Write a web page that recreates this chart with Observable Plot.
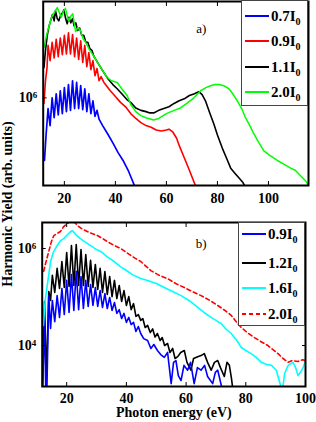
<!DOCTYPE html>
<html><head><meta charset="utf-8">
<script src="https://cdn.jsdelivr.net/npm/d3@7"></script>
<script src="https://cdn.jsdelivr.net/npm/@observablehq/plot@0.6"></script>
<style>
body{margin:0;background:#fff;}
#wrap{position:relative;width:316px;height:422px;font-family:"Liberation Serif","Times New Roman",serif;font-weight:bold;color:#000;}
#wrap svg{position:absolute;left:0;}
.leg{position:absolute;background:#fff;border:1px solid #444;box-sizing:border-box;}
.row{position:absolute;left:3px;height:16px;display:flex;align-items:center;font-size:15px;white-space:nowrap;}
.row svg{position:static !important;margin-right:2px;}
.row span{line-height:16px;}
.row sub{font-size:10px;vertical-align:-4px;line-height:0;}
#ylab{position:absolute;left:-92px;top:195px;width:200px;text-align:center;font-size:14px;line-height:18px;transform:rotate(-90deg);}
</style></head>
<body><div id="wrap"></div>
<script>
// ---------- data (photon energy eV, yield arb. units) ----------
const xTicks = [20, 40, 60, 80, 100];
const yTicksA = [1e6];
const yTicksB = [1e4, 1e6];

// panel a)
const legendA = ["0.7", "0.9", "1.1", "2.0"];
const a07 = [[12.2,2.7e5],[12.8,4.5e5],[13.6,8.0e5],[14.4,5.6e5],[15.2,1.0e6],[16.0,6.6e5],[16.8,1.09e6],[17.6,7.0e5],[18.4,1.16e6],[19.2,7.2e5],[20.0,1.24e6],[20.8,7.5e5],[21.6,1.32e6],[22.4,7.7e5],[23.2,1.43e6],[24.0,8.0e5],[24.8,1.38e6],[25.6,8.0e5],[26.4,1.29e6],[27.2,7.8e5],[28.0,1.21e6],[28.8,7.5e5],[29.6,1.09e6],[30.4,7.2e5],[31.2,9.4e5],[32.0,6.8e5],[32.8,7.7e5],[33.6,6.4e5],[35,5.6e5],[37,4.7e5],[39,3.9e5],[41,3.2e5],[43,2.7e5],[45,2.2e5],[47.5,1.59e5],[48.5,1.3e5]];
const a09 = [[12.0,8.9e5],[12.6,1.43e6],[13.2,1.88e6],[13.6,3.0e6],[14.4,2.18e6],[15.2,3.2e6],[16.0,2.3e6],[16.8,3.4e6],[17.6,2.37e6],[18.4,3.5e6],[19.2,2.47e6],[20.0,3.7e6],[20.8,2.5e6],[21.6,3.9e6],[22.4,2.5e6],[23.2,3.76e6],[24.0,2.37e6],[24.8,3.5e6],[25.6,2.23e6],[26.4,3.3e6],[27.2,2.1e6],[28.0,3.0e6],[28.8,1.92e6],[29.6,2.58e6],[30.4,1.8e6],[31.2,2.18e6],[32.0,1.59e6],[32.8,1.85e6],[33.6,1.43e6],[34.4,1.56e6],[35.5,1.38e6],[36.5,1.29e6],[38,1.16e6],[40,1.03e6],[42,9.1e5],[44,8.3e5],[46,7.2e5],[48,6.5e5],[50,5.96e5],[52,5.6e5],[54,5.4e5],[56,5.1e5],[58,5.0e5],[60,5.1e5],[61,5.2e5],[62.5,4.9e5],[64,4.3e5],[65,3.7e5],[67,2.86e5],[69,2.2e5],[71.4,1.59e5],[72.5,1.29e5]];
const a11 = [[12.0,1.88e6],[12.6,2.7e6],[13.3,3.7e6],[14.0,4.5e6],[14.6,5.0e6],[15.3,5.7e6],[16.0,5.0e6],[16.5,6.2e6],[17.2,5.25e6],[17.8,5.0e6],[18.6,5.7e6],[19.4,5.96e6],[19.8,6.3e6],[20.5,5.25e6],[21.1,4.7e6],[21.8,5.4e6],[22.5,4.8e6],[23.2,5.25e6],[23.8,4.5e6],[24.5,4.8e6],[25.2,4.1e6],[26.0,4.3e6],[26.8,3.7e6],[27.6,3.7e6],[28.4,3.2e6],[29.2,3.2e6],[30.0,2.8e6],[30.8,2.7e6],[31.5,2.4e6],[33,2.1e6],[35,1.77e6],[37,1.5e6],[39,1.32e6],[40.7,1.21e6],[42.5,1.09e6],[44.6,9.6e5],[46,9.1e5],[48,8.1e5],[50,7.7e5],[52,7.5e5],[53.5,7.3e5],[55,7.3e5],[57,7.7e5],[59,8.0e5],[61,8.3e5],[63,8.9e5],[65,9.4e5],[67,9.8e5],[69,1.05e6],[71,1.09e6],[72.7,1.14e6],[74,1.07e6],[75.3,9.4e5],[77,7.3e5],[78.6,5.8e5],[80,4.6e5],[81.9,3.5e5],[83.5,2.86e5],[85.2,2.3e5],[87,2.05e5],[88.4,1.88e5],[90,1.7e5],[91,1.55e5],[92,1.3e5]];
const a20 = [[12.0,2.86e6],[13,3.7e6],[14,4.5e6],[15,5.4e6],[15.7,5.8e6],[16.5,6.2e6],[17.2,6.6e6],[18,5.96e6],[18.8,5.4e6],[19.6,6.1e6],[20.4,6.5e6],[21,5.7e6],[21.7,5.0e6],[22.5,5.5e6],[23.3,5.8e6],[24.4,4.0e6],[25.3,4.35e6],[26.3,4.1e6],[27.3,3.46e6],[28.3,3.2e6],[30,2.7e6],[31.5,2.4e6],[33,2.1e6],[35,1.77e6],[36.8,1.53e6],[38.5,1.43e6],[40.7,1.38e6],[42.5,1.21e6],[44.6,1.05e6],[46,8.7e5],[48,7.5e5],[50,6.9e5],[52,6.6e5],[55,6.3e5],[57,6.5e5],[60,7.2e5],[63,7.7e5],[65.5,8.1e5],[68,8.9e5],[70.8,1.0e6],[73.4,1.16e6],[75.5,1.24e6],[77.3,1.29e6],[79,1.32e6],[80.6,1.32e6],[82.5,1.29e6],[84.5,1.21e6],[86,1.09e6],[87.8,9.4e5],[89.5,8.0e5],[91,6.6e5],[92.7,5.6e5],[94.3,4.7e5],[96,4.0e5],[98.2,3.3e5],[100.5,3.0e5],[103.5,2.7e5],[106,2.5e5],[108.7,2.3e5],[110.5,2.2e5],[112.6,1.96e5],[114.5,1.77e5],[115.9,1.59e5]];

// panel b)
const legendB = ["0.9", "1.2", "1.6", "2.0"];
const b09 = [[11.9,1.1e3],[12.6,3.6e4],[13.0,1.1e3],[13.4,1.5e3],[14.0,1.07e5],[14.6,2.24e4],[15.2,8.5e4],[16.0,3.1e4],[16.8,1.07e5],[17.6,3.8e4],[18.4,1.5e5],[19.2,4.35e4],[20.0,2.2e5],[20.8,4.8e4],[21.6,2.9e5],[22.4,5.3e4],[23.2,3.4e5],[24.0,5.5e4],[24.8,2.65e5],[25.6,5.8e4],[26.4,2.2e5],[27.2,6.4e4],[28.0,1.8e5],[28.8,6.7e4],[29.6,1.57e5],[30.4,6.4e4],[31.2,1.36e5],[32.0,6.1e4],[32.8,1.18e5],[33.6,5.8e4],[34.4,9.8e4],[35.2,5.3e4],[36.0,7.7e4],[36.8,4.6e4],[37.6,5.5e4],[38.4,3.6e4],[39.2,4.6e4],[40.0,3.0e4],[40.8,3.8e4],[41.6,2.7e4],[42.4,3.0e4],[43.2,1.95e4],[44,2.47e4],[44.8,1.77e4],[45.8,1.39e4],[47.1,1.27e4],[48.2,8.7e3],[49.2,1.05e4],[50.4,7.9e3],[51.5,6.5e3],[52.7,5.7e3],[53.8,7.2e3],[55,1.64e3],[55.8,4.5e3],[56.6,4.9e3],[57.4,2.4e3],[58.3,1.9e3],[59.3,3.9e3],[60.5,3.1e3],[61.5,4.5e3],[62.7,1.64e3],[63.8,3.5e3],[65,3.1e3],[66.2,3.9e3],[67.2,2.3e3],[68.9,1.64e3],[69.8,2.8e3],[70.6,3.1e3],[71.8,1.5e3],[72.8,1.0e3]];
const b12 = [[11.9,1.2e3],[12.6,8.1e4],[13.2,1.9e3],[14.0,1.3e5],[14.6,8.5e4],[15.2,2.8e5],[16.0,1.24e5],[16.8,3.9e5],[17.6,1.5e5],[18.4,5.4e5],[19.2,1.57e5],[20.0,8.3e5],[20.8,1.65e5],[21.6,1.15e6],[22.4,1.73e5],[23.2,1.21e6],[24.0,1.73e5],[24.8,9.5e5],[25.6,1.73e5],[26.4,7.5e5],[27.2,1.65e5],[28.0,5.7e5],[28.8,1.57e5],[29.6,4.7e5],[30.4,1.43e5],[31.2,3.9e5],[32.0,1.24e5],[32.8,3.36e5],[33.6,1.13e5],[34.4,2.65e5],[35.2,1.02e5],[36.0,2.2e5],[36.8,9.3e4],[37.6,1.73e5],[38.4,8.1e4],[39.2,1.36e5],[40.0,6.7e4],[40.8,1.02e5],[41.6,5.5e4],[42.4,7.3e4],[43.2,4.0e4],[44,4.35e4],[44.8,3.3e4],[45.5,3.6e4],[46.3,2.35e4],[47.1,2.6e4],[48,1.85e4],[48.8,2.2e4],[49.6,1.5e4],[50.4,1.77e4],[51.3,1.27e4],[52,1.46e4],[52.8,1.0e4],[53.8,1.1e4],[54.6,7.2e3],[55.5,8.7e3],[56.3,5.4e3],[57.2,5.9e3],[58.2,7.2e3],[59.4,7.9e3],[60.3,4.5e3],[61.6,3.1e3],[62.5,5.4e3],[63.9,5.9e3],[65,6.2e3],[66.1,6.8e3],[67.2,4.5e3],[68.4,3.1e3],[69.5,4.5e3],[70.6,4.9e3],[71.5,3.5e3],[72.8,2.3e3],[73.7,4.5e3],[74.5,3.9e3],[75.2,2.1e3],[75.7,1.2e3]];
const b16 = [[12.2,2.6e4],[12.8,8.5e4],[13.5,1.73e5],[14.6,5.4e5],[15.5,8.3e5],[16.8,1.15e6],[18,1.46e6],[19,1.6e6],[20,1.85e6],[21,2.14e6],[21.9,2.35e6],[23,1.94e6],[24.6,1.6e6],[26,1.39e6],[28,1.15e6],[30,9.5e5],[31.4,8.7e5],[33.5,6.8e5],[35.9,5.4e5],[38,4.25e5],[40.4,3.4e5],[42,2.9e5],[44.8,2.4e5],[47.1,2.2e5],[50,1.9e5],[52.7,1.57e5],[55.5,1.3e5],[58.3,1.07e5],[61,8.5e4],[63.9,6.1e4],[66,4.8e4],[68.4,3.8e4],[70,3.3e4],[71.7,2.84e4],[73.5,2.14e4],[75.1,1.77e4],[77,1.27e4],[78.5,9.1e3],[80,7.9e3],[81.8,6.8e3],[83.5,5.7e3],[85.2,4.5e3],[87,4.05e3],[88.6,3.9e3],[90.2,3.1e3],[91.2,1.9e3],[91.9,1.3e3],[92.5,1.5e3],[93,2.65e3],[94.2,3.9e3],[95.8,4.5e3],[96.7,3.5e3],[97.5,2.4e3],[98.3,2.8e3],[99.2,3.5e3],[100,4.9e3]];
const b20 = [[12.3,3.4e5],[13,5.1e5],[14,8.7e5],[15,1.46e6],[15.7,1.85e6],[16.8,2.04e6],[17.9,2.24e6],[19,2.84e6],[20.2,3.28e6],[21.2,3.6e6],[21.9,3.8e6],[22.7,3.44e6],[23.6,2.98e6],[25,2.58e6],[26.9,2.24e6],[28.5,2.04e6],[30.3,1.85e6],[32,1.61e6],[33.6,1.39e6],[36,1.15e6],[38.1,1.0e6],[40,8.3e5],[42.6,6.5e5],[44.8,5.4e5],[48.2,3.5e5],[51,2.8e5],[53.8,2.4e5],[56.5,1.9e5],[59.4,1.57e5],[62,1.3e5],[65,1.07e5],[68,8.5e4],[70.6,6.7e4],[73,5.3e4],[75.1,4.2e4],[77,3.0e4],[78.5,2.35e4],[80.5,1.85e4],[82.9,1.46e4],[85,1.21e4],[87.4,1.0e4],[89,8.3e3],[90.8,6.8e3],[92.5,5.4e3],[94.2,4.5e3],[95.5,4.9e3],[97.5,4.7e3],[99,5.1e3],[100,4.9e3]];

// ---------- rendering ----------
const rows = a => a.map(([e, v]) => ({e, v}));
const FONT = "Liberation Serif";

function axes(yTicks, pad) {
  return [
    Plot.axisX({anchor: "bottom", ticks: xTicks, tickSize: -4, tickFormat: () => "", label: null}),
    Plot.axisX({anchor: "top", ticks: xTicks, tickSize: -4, tickFormat: () => "", label: null}),
    Plot.axisY({anchor: "left", ticks: yTicks, tickSize: -4, tickFormat: () => "", label: null}),
    Plot.axisY({anchor: "right", ticks: yTicks, tickSize: -4, tickFormat: () => "", label: null}),
    Plot.axisX({anchor: "bottom", ticks: xTicks, tickSize: 0, tickPadding: pad, label: null, fontSize: 14, fontWeight: "bold"}),
    Plot.axisY({anchor: "left", ticks: yTicks, tickSize: 0, tickPadding: 6, label: null, fontSize: 14, fontWeight: "bold",
      tickFormat: d => "10^" + Math.round(Math.log10(d))})
  ];
}

function sup(svg) {
  svg.querySelectorAll("text").forEach(t => {
    const s = t.textContent;
    if (s.includes("^")) {
      const [b, e] = s.split("^");
      t.textContent = b;
      const ts = document.createElementNS("http://www.w3.org/2000/svg", "tspan");
      ts.setAttribute("dy", "-0.5em");
      ts.setAttribute("font-size", "9");
      ts.textContent = e;
      t.appendChild(ts);
    }
  });
  return svg;
}

const wrap = document.getElementById("wrap");

const plotA = Plot.plot({
  width: 316, height: 205,
  marginLeft: 42.7, marginRight: 8, marginTop: 1, marginBottom: 20,
  style: {fontFamily: FONT, background: "transparent", overflow: "visible"},
  x: {domain: [11.7, 115.7], label: null},
  y: {type: "log", domain: [1.6e5, 7.5e6], label: null},
  marks: [
    Plot.line(rows(a07), {x: "e", y: "v", stroke: "#0000ff", strokeWidth: 1.7, clip: true}),
    Plot.line(rows(a09), {x: "e", y: "v", stroke: "#ff0000", strokeWidth: 1.6, clip: true}),
    Plot.line(rows(a11), {x: "e", y: "v", stroke: "#000000", strokeWidth: 1.6, clip: true}),
    Plot.line(rows(a20), {x: "e", y: "v", stroke: "#00ff00", strokeWidth: 1.5, clip: true}),
    Plot.frame({stroke: "black", strokeWidth: 2}),
    ...axes(yTicksA, 8),
    Plot.text(["a)"], {frameAnchor: "top-left", dx: 158, dy: 27, textAnchor: "middle", lineAnchor: "middle", fontSize: 13, fontWeight: "normal"})
  ]
});
plotA.style.top = "0px";
wrap.appendChild(sup(plotA));

const plotB = Plot.plot({
  width: 316, height: 217,
  marginLeft: 41.7, marginRight: 11, marginTop: 17, marginBottom: 36,
  style: {fontFamily: FONT, background: "transparent", overflow: "visible"},
  x: {domain: [11.8, 100], label: null},
  y: {type: "log", domain: [1.43e3, 3.44e6], label: null},
  marks: [
    Plot.line(rows(b12), {x: "e", y: "v", stroke: "#000000", strokeWidth: 1.6, clip: true}),
    Plot.line(rows(b09), {x: "e", y: "v", stroke: "#0000ff", strokeWidth: 1.6, clip: true}),
    Plot.line(rows(b16), {x: "e", y: "v", stroke: "#00ffff", strokeWidth: 1.6, clip: true}),
    Plot.line(rows(b20), {x: "e", y: "v", stroke: "#ff0000", strokeWidth: 1.6, strokeDasharray: "4,3", clip: true}),
    Plot.frame({stroke: "black", strokeWidth: 2}),
    ...axes(yTicksB, 7),
    Plot.text(["b)"], {frameAnchor: "top-left", dx: 159, dy: 21, textAnchor: "middle", lineAnchor: "middle", fontSize: 13, fontWeight: "normal"}),
    Plot.text(["Photon energy (eV)"], {frameAnchor: "bottom", dy: 26, lineAnchor: "middle", fontSize: 14, fontWeight: "bold"})
  ]
});
plotB.style.top = "205px";
wrap.appendChild(sup(plotB));

// y label spanning both panels
const yl = document.createElement("div");
yl.id = "ylab";
yl.textContent = "Harmonic Yield (arb. units)";
wrap.appendChild(yl);

// legends
function legend(labels, colors, dashes, box, rowsY) {
  const d = document.createElement("div");
  d.className = "leg";
  Object.assign(d.style, {left: box[0] + "px", top: box[1] + "px", width: box[2] + "px", height: box[3] + "px"});
  labels.forEach((lab, i) => {
    const r = document.createElement("div");
    r.className = "row";
    r.style.top = (rowsY[i] - box[1] - 8) + "px";
    r.innerHTML = `<svg width="24" height="4"><line x1="0" y1="2" x2="24" y2="2" stroke="${colors[i]}" stroke-width="2" ${dashes[i] ? 'stroke-dasharray="4,3"' : ""}/></svg><span>${lab}I<sub>0</sub></span>`;
    d.appendChild(r);
  });
  wrap.appendChild(d);
}
legend(legendA, ["#0000ff", "#ff0000", "#000", "#00ff00"], [0, 0, 0, 0], [241, 0, 67, 106], [15, 40, 66, 91]);
legend(legendB, ["#0000ff", "#000", "#00ffff", "#ff0000"], [0, 0, 0, 1], [238, 222, 67, 104], [233, 262, 287, 313]);
</script></body></html>
